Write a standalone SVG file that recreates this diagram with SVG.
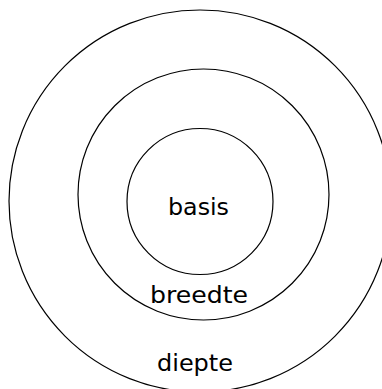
<svg xmlns="http://www.w3.org/2000/svg" width="382" height="389" viewBox="0 0 382 389">
  <style>
    .ring { fill: none; stroke: #000; stroke-width: 1.2; }
    .lbl { font-family: "Comic Sans MS", "DejaVu Sans", sans-serif; font-size: 23px; fill: #000; text-anchor: middle; }
  </style>
  <rect width="382" height="389" fill="#fff"/>
  <g id="diepte">
    <circle class="ring" cx="200" cy="201" r="191"/>
    <text class="lbl" x="195" y="371" textLength="76" lengthAdjust="spacingAndGlyphs">diepte</text>
  </g>
  <g id="breedte">
    <circle class="ring" cx="203.5" cy="194.5" r="125.5"/>
    <text class="lbl" x="199" y="303" textLength="98" lengthAdjust="spacingAndGlyphs">breedte</text>
  </g>
  <g id="basis">
    <circle class="ring" cx="200" cy="201.5" r="73"/>
    <text class="lbl" x="198.5" y="215" textLength="61" lengthAdjust="spacingAndGlyphs">basis</text>
  </g>
  <g id="connectors"/>
</svg>
